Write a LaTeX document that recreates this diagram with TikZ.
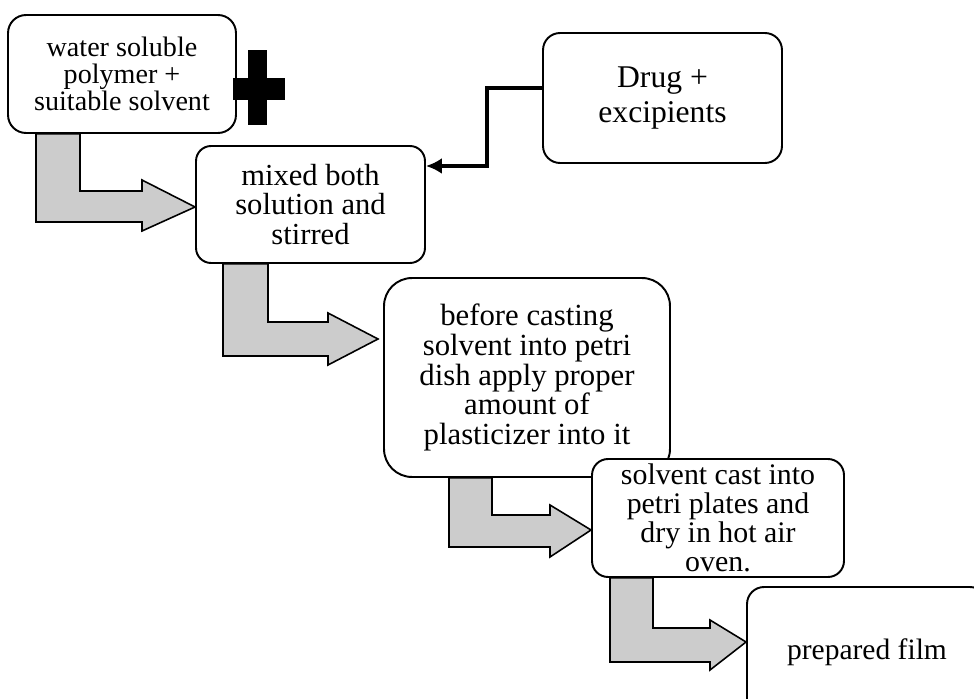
\documentclass[tikz,border=0pt]{standalone}
\usepackage{fontspec}
\setmainfont{Liberation Serif}
\usetikzlibrary{arrows.meta}

\tikzset{
    stage/.style={draw, line width=1.1pt, fill=white, align=center, inner sep=2pt},
    bentarrow/.style={draw, line width=0.9pt, fill=gray!40, line join=miter},
    feed/.style={line width=1.8pt, -{Latex[length=0.32cm,width=0.32cm]}}
}

\begin{document}
\begin{tikzpicture}[x=0.02cm, y=-0.02cm]
    \useasboundingbox (0,0) rectangle (974,699);

    \node[stage, rounded corners=0.36cm, minimum width=4.56cm, minimum height=2.36cm,
          font=\fontsize{16}{15.5}\selectfont] (polymer) at (122,74)
          {water soluble\\polymer +\\suitable solvent};
    % plus sign
    \fill (248,50) rectangle (267,125);
    \fill (233,78) rectangle (285,100);

    \node[stage, rounded corners=0.34cm, minimum width=4.78cm, minimum height=2.6cm,
          font=\fontsize{18}{20}\selectfont] (drug) at (662.5,98)
          {Drug +\\excipients};

    \node[stage, rounded corners=0.3cm, minimum width=4.58cm, minimum height=2.34cm,
          font=\fontsize{17.4}{17}\selectfont] (mix) at (310.5,204.5)
          {mixed both\\solution and\\stirred};

    \node[stage, rounded corners=0.56cm, minimum width=5.72cm, minimum height=3.98cm,
          font=\fontsize{17.5}{17}\selectfont] (plast) at (527,377.5)
          {before casting\\solvent into petri\\dish apply proper\\amount of\\plasticizer into it};

    \node[stage, rounded corners=0.32cm, minimum width=5.04cm, minimum height=2.36cm,
          font=\fontsize{17}{16.5}\selectfont] (cast) at (718,518)
          {solvent cast into\\petri plates and\\dry in hot air\\oven.};

    \node[stage, rounded corners=0.34cm, minimum width=4.8cm, minimum height=2.6cm,
          font=\fontsize{16.8}{16.5}\selectfont] (film) at (867,652)
          {prepared film};

    % drug feed
    \draw[feed] (drug.west |- 0,88) -| (487,166) -- (mix.east |- 0,166);

    % bent arrows between the stages
    \draw[bentarrow] (polymer.south -| 36,0) -- (polymer.south -| 80,0) -- (80,191) -- (142,191)
        -- (142,180) -- (mix.west |- 0,207) -- (142,231) -- (142,222) -- (36,222) -- cycle;
    \draw[bentarrow] (mix.south -| 223,0) -- (mix.south -| 268,0) -- (268,322) -- (328,322)
        -- (328,313) -- (378,339) -- (328,365) -- (328,356) -- (223,356) -- cycle;
    \draw[bentarrow] (plast.south -| 449,0) -- (plast.south -| 492,0) -- (492,515) -- (550,515)
        -- (550,505) -- (cast.west |- 0,530) -- (550,557) -- (550,547) -- (449,547) -- cycle;
    \draw[bentarrow] (cast.south -| 610,0) -- (cast.south -| 653,0) -- (653,628) -- (710,628)
        -- (710,620) -- (film.west |- 0,642) -- (710,670) -- (710,662) -- (610,662) -- cycle;
\end{tikzpicture}
\end{document}
